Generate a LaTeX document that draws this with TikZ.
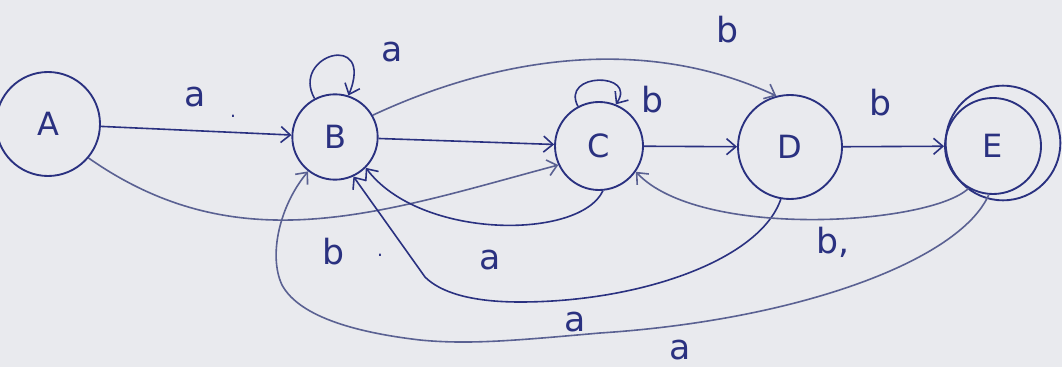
\documentclass[tikz,border=0pt]{standalone}
\usepackage{fontspec}
\setmainfont{DejaVu Sans}
\usetikzlibrary{arrows.meta}
\definecolor{ink}{HTML}{2A3180}
\definecolor{faint}{HTML}{5A6192}
\definecolor{paper}{HTML}{E9EAEE}
\begin{document}
\begin{tikzpicture}[x=0.75pt,y=0.75pt,
  state/.style={circle,draw=ink,line width=1.4pt,inner sep=0pt,text=ink,font=\fontsize{24}{28}\selectfont},
  arr/.style={draw=ink,line width=1.2pt,-{Straight Barb[length=7pt,width=12pt]}},
  farr/.style={arr,draw=faint},
  lbl/.style={text=ink,font=\fontsize{26}{30}\selectfont,inner sep=0pt}]
\fill[paper] (0,0) rectangle (1062,-367);
\useasboundingbox (0,0) rectangle (1062,-367);
\node[state,minimum size=78] (A) at (48,-124) {A};
\node[state,minimum size=64] (B) at (335,-137) {B};
\node[state,minimum size=66] (C) at (599,-146) {C};
\node[state,minimum size=78] (D) at (790,-147) {D};
\node[state,minimum size=72] (E) at (993,-146) {E};
\node[circle,draw=ink,line width=1.4pt,minimum size=86,inner sep=0pt] (E2) at (1003,-143) {};
% A
\draw[arr] (A) -- (B);
\node[lbl] (la) at (195,-97) {a};
\node[lbl] (dot1) at (233,-116) {\fontsize{14}{14}\selectfont .};
\draw[farr] (A.-40) to[out=-35,in=195,looseness=1] (C.205);
\node[lbl] (lb1) at (333,-252) {b};
\node[lbl] (dot2) at (380,-255) {\fontsize{14}{14}\selectfont .};
% B
\draw[arr] (B.118) .. controls (290,-55) and (375,-30) .. (B.72);
\node[lbl] (la2) at (392,-52) {a};
\draw[farr] (B.30) to[out=25,in=155,looseness=0.9] (D.105);
\node[lbl] (lb2) at (727,-30) {b};
\draw[arr] (B) -- (C);
% C
\draw[arr] (C.118) .. controls (560,-72) and (638,-72) .. (C.68);
\node[lbl] (lb3) at (652,-100) {b};
\draw[arr] (C.-85) .. controls (580,-240) and (420,-240) .. (B.-45);
\node[lbl] (la3) at (490,-260) {a};
\draw[arr] (C) -- (D);
% D
\draw[arr] (D) -- (E);
\node[lbl] (lb4) at (880,-103) {b};
\draw[arr] (D.-100) .. controls (760,-260) and (640,-302) .. (520,-302)
   .. controls (470,-302) and (440,-292) .. (425,-277) -- (B.-65);
\node[lbl] (la4) at (575,-322) {a};
% E
\draw[farr] (E.-120) .. controls (930,-225) and (700,-240) .. (C.-35);
\node[lbl] (lb5) at (833,-242) {b,};
\draw[farr] (E.-95) .. controls (960,-260) and (800,-320) .. (600,-333)
   .. controls (520,-340) and (470,-345) .. (420,-340)
   .. controls (360,-333) and (300,-318) .. (282,-285)
   .. controls (268,-255) and (280,-205) .. (B.-128);
\node[lbl] (la5) at (680,-350) {a};
\end{tikzpicture}
\end{document}
